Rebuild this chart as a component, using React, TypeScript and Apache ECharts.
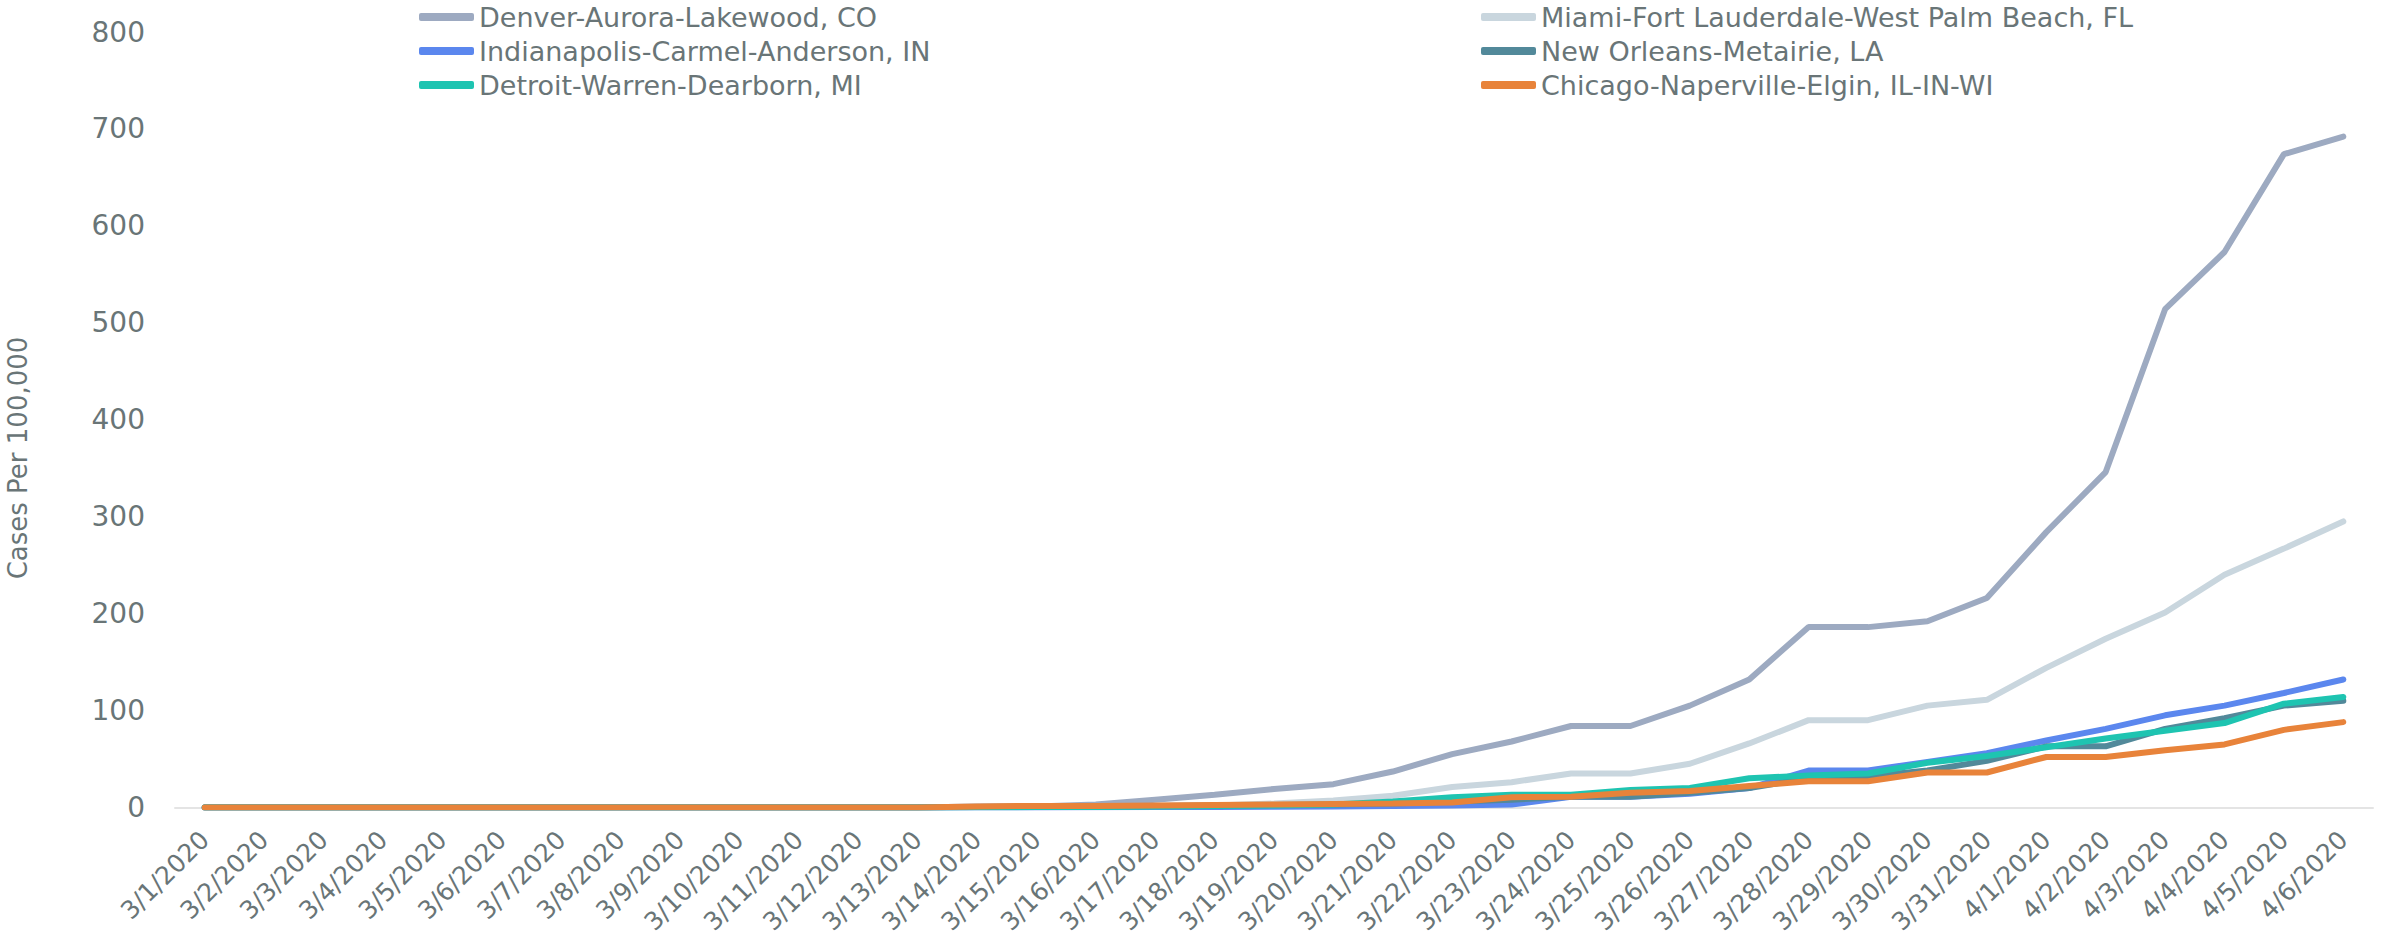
import React, { useEffect, useRef } from "react";
import * as echarts from "echarts";

const dates = [
  "3/1/2020", "3/2/2020", "3/3/2020", "3/4/2020", "3/5/2020", "3/6/2020", "3/7/2020",
  "3/8/2020", "3/9/2020", "3/10/2020", "3/11/2020", "3/12/2020", "3/13/2020", "3/14/2020",
  "3/15/2020", "3/16/2020", "3/17/2020", "3/18/2020", "3/19/2020", "3/20/2020", "3/21/2020",
  "3/22/2020", "3/23/2020", "3/24/2020", "3/25/2020", "3/26/2020", "3/27/2020", "3/28/2020",
  "3/29/2020", "3/30/2020", "3/31/2020", "4/1/2020", "4/2/2020", "4/3/2020", "4/4/2020",
  "4/5/2020", "4/6/2020",
];

const yTicks = [0, 100, 200, 300, 400, 500, 600, 700, 800];

const denver = [0, 0, 0, 0, 0, 0, 0, 0, 0, 0, 0, 0, 0,
  1, 1, 3, 8, 13, 19, 24, 37, 55, 68, 84, 84, 105, 132, 186, 186, 192, 216, 284, 346, 514, 573, 674, 692];
const miami = [0, 0, 0, 0, 0, 0, 0, 0, 0, 0, 0, 0, 0,
  0.5, 0.5, 1, 1.5, 2, 4, 7, 12, 21, 26, 35, 35, 45, 66, 90, 90, 105, 111, 144, 174, 201, 240, 267, 295];
const indianapolis = [0, 0, 0, 0, 0, 0, 0, 0, 0, 0, 0, 0, 0,
  0, 0, 0.2, 0.3, 0.5, 0.7, 1, 1.5, 2, 3, 11, 11, 14, 20, 38, 38, 47, 56, 69, 81, 95, 105, 118, 132];
const newOrleans = [0, 0, 0, 0, 0, 0, 0, 0, 0, 0, 0, 0, 0,
  0.5, 0.8, 1, 1.5, 2, 2.5, 3, 4, 6, 8, 11, 11, 15, 20, 30, 32, 38, 48, 63, 63, 81, 92, 105, 110];
const detroit = [0, 0, 0, 0, 0, 0, 0, 0, 0, 0, 0, 0, 0,
  0.2, 0.3, 0.5, 1, 1.5, 2, 3, 6, 10.5, 13, 13, 18, 20, 30, 33, 35, 46, 53, 62, 71, 79, 87, 107, 114];
const chicago = [0, 0, 0, 0, 0, 0, 0, 0, 0, 0, 0, 0, 0,
  1, 1.5, 1.5, 2, 2.5, 3, 3.5, 4, 5, 10.5, 11, 15, 17, 22, 27, 27, 36, 36, 52, 52, 59, 65, 80, 88];

const seriesNames = [
  "Denver-Aurora-Lakewood, CO",
  "Miami-Fort Lauderdale-West Palm Beach, FL",
  "Indianapolis-Carmel-Anderson, IN",
  "New Orleans-Metairie, LA",
  "Detroit-Warren-Dearborn, MI",
  "Chicago-Naperville-Elgin, IL-IN-WI",
];
const seriesData = [denver, miami, indianapolis, newOrleans, detroit, chicago];
const seriesColors = ["#9daac1", "#c9d6de", "#5b87ee", "#52899a", "#1ec4b1", "#e8833a"];

const leftLegend = [seriesNames[0], seriesNames[2], seriesNames[4]];
const rightLegend = [seriesNames[1], seriesNames[3], seriesNames[5]];

const FONT = "DejaVu Sans";
const TEXT_COLOR = "#697577";

export default function App() {
  const ref = useRef<HTMLDivElement>(null);

  useEffect(() => {
    if (!ref.current) return;
    const chart = echarts.init(ref.current, undefined, { renderer: "svg" });
    const legendCommon = {
      orient: "vertical",
      top: 0,
      itemWidth: 55,
      itemHeight: 8,
      itemGap: 0,
      icon: "roundRect",
      padding: 0,
      textStyle: { fontFamily: FONT, fontSize: 27, color: TEXT_COLOR, lineHeight: 34 },
    };
    chart.setOption({
      animation: false,
      backgroundColor: "#ffffff",
      legend: [
        { ...legendCommon, left: 419, data: leftLegend },
        { ...legendCommon, left: 1481, data: rightLegend },
      ],
      grid: { left: 175, right: 8, top: 32, bottom: 128 },
      xAxis: {
        type: "category",
        data: dates,
        boundaryGap: true,
        axisLine: { show: true, lineStyle: { color: "#e4e4e4", width: 2 } },
        axisTick: { show: false },
        splitLine: { show: false },
        axisLabel: {
          interval: 0,
          rotate: 45,
          margin: 28,
          fontFamily: FONT,
          fontSize: 25,
          color: TEXT_COLOR,
        },
      },
      yAxis: {
        type: "value",
        min: yTicks[0],
        max: yTicks[yTicks.length - 1],
        interval: 100,
        axisLine: { show: false },
        axisTick: { show: false },
        splitLine: { show: false },
        axisLabel: {
          margin: 30,
          fontFamily: FONT,
          fontSize: 28,
          color: TEXT_COLOR,
        },
      },
      graphic: [
        {
          type: "text",
          x: 18,
          y: 458,
          rotation: Math.PI / 2,
          style: {
            text: "Cases Per 100,000",
            fontFamily: FONT,
            fontSize: 26,
            fill: TEXT_COLOR,
            align: "center",
            verticalAlign: "middle",
          },
        },
      ],
      series: seriesNames.map((name, i) => ({
        name,
        type: "line",
        data: seriesData[i],
        symbol: "none",
        color: seriesColors[i],
        lineStyle: { width: 6, color: seriesColors[i], cap: "round" },
        z: 2 + i,
      })),
    });
    return () => chart.dispose();
  }, []);

  return (
    <div
      ref={ref}
      style={{ position: "fixed", left: 0, top: 0, width: 2381, height: 937 }}
    />
  );
}
